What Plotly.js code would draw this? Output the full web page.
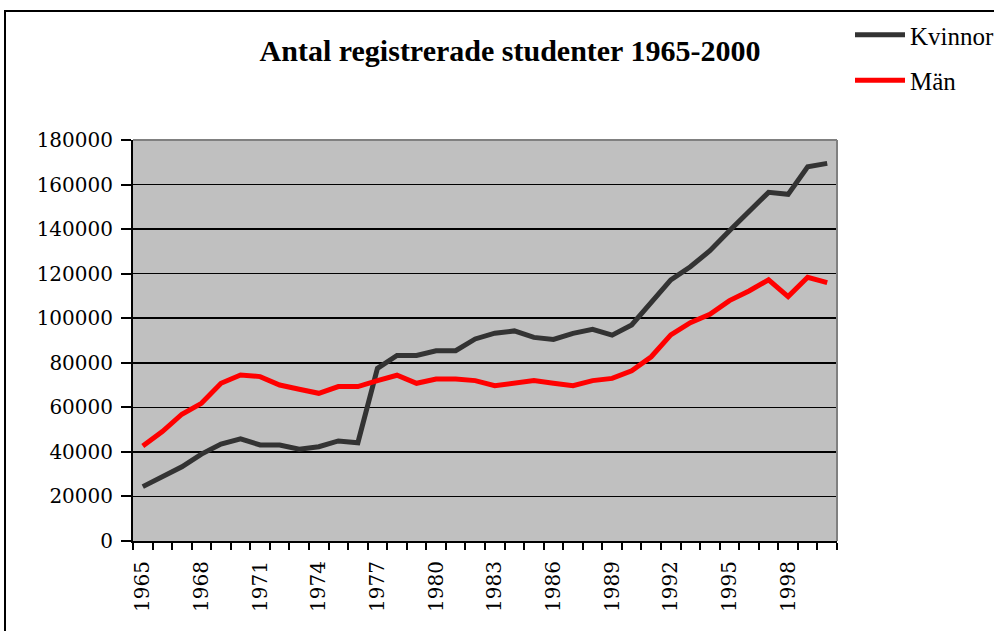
<!DOCTYPE html>
<html>
<head>
<meta charset="utf-8">
<script src="https://cdn.plot.ly/plotly-3.0.1.min.js"></script>
<style>
html,body{margin:0;padding:0;background:#fff;overflow:hidden;width:994px;height:631px;}
#chart{width:1100px;height:631px;}
</style>
</head>
<body>
<div id="chart"></div>
<script>
const years = [1965,1966,1967,1968,1969,1970,1971,1972,1973,1974,1975,1976,1977,1978,1979,1980,1981,1982,1983,1984,1985,1986,1987,1988,1989,1990,1991,1992,1993,1994,1995,1996,1997,1998,1999,2000];
const kvinnor = [24400,28900,33300,39000,43500,45900,43100,43100,41200,42300,44900,44100,77500,83300,83300,85400,85400,90700,93300,94300,91400,90500,93200,95000,92400,97000,107000,117200,123100,130300,139300,148300,156500,155600,168000,169500];
const man = [42600,49100,56900,61800,70800,74500,73800,70000,68100,66300,69300,69300,72000,74400,70800,72700,72700,72000,69700,70800,72000,70800,69700,72000,73000,76400,82700,92500,98000,101800,107900,112200,117200,109700,118400,116000];
const yTicks = [0,20000,40000,60000,80000,100000,120000,140000,160000,180000];
const xLabels = [1965,1968,1971,1974,1977,1980,1983,1986,1989,1992,1995,1998];

const L = 133, R = 837, T = 140, B = 541, W = 1100, H = 631;
const pw = R - L, ph = B - T;
const px = v => (v - L) / pw;
const py = v => (B - v) / ph;

const tickFont = {family: 'DejaVu Serif, Liberation Serif, serif', size: 20, color: '#000'};

const traces = [
  {x: years, y: kvinnor, name: 'Kvinnor', type: 'scatter', mode: 'lines',
   line: {color: '#333333', width: 5}, legendgroup: 'a'},
  {x: years, y: man, name: 'Män', type: 'scatter', mode: 'lines',
   line: {color: '#ff0000', width: 5}, legendgroup: 'b'}
];

const layout = {
  width: W, height: H,
  margin: {l: L, r: W - R, t: T, b: H - B, pad: 0},
  paper_bgcolor: '#ffffff',
  plot_bgcolor: '#c0c0c0',
  showlegend: true,
  title: {
    text: '<b>Antal registrerade studenter 1965-2000</b>',
    font: {family: 'Liberation Serif, serif', size: 30, color: '#000'},
    x: px(510), xanchor: 'center', xref: 'paper',
    y: 1 - 50 / H, yanchor: 'middle', yref: 'container'
  },
  xaxis: {
    type: 'linear',
    range: [1964.5, 2000.5],
    tickmode: 'array',
    tickvals: xLabels,
    ticktext: xLabels.map(String),
    ticks: '',
    tickangle: -90,
    tickfont: tickFont,
    showgrid: false,
    zeroline: false,
    showline: true, linecolor: '#000', linewidth: 2,
    minor: {tick0: 1964.5, dtick: 1, ticks: 'outside', ticklen: 7, tickwidth: 2, tickcolor: '#000', showgrid: false},
    ticklabelstandoff: 10,
    fixedrange: true
  },
  yaxis: {
    range: [0, 180000],
    tickmode: 'array',
    tickvals: yTicks,
    ticktext: yTicks.map(String),
    ticks: 'outside', ticklen: 10, tickwidth: 2, tickcolor: '#000',
    tickfont: tickFont,
    showgrid: true, gridcolor: '#000', gridwidth: 1.5,
    zeroline: false,
    showline: true, linecolor: '#000', linewidth: 2,
    ticklabelstandoff: 4,
    fixedrange: true
  },
  legend: {
    x: px(850), xanchor: 'left',
    y: py(12), yanchor: 'top',
    bgcolor: 'rgba(0,0,0,0)',
    font: {family: 'Liberation Serif, serif', size: 25, color: '#000'},
    tracegroupgap: 10,
    traceorder: 'grouped',
    itemwidth: 50
  },
  shapes: [
    {type: 'line', xref: 'paper', yref: 'paper', x0: 0, x1: 1, y0: 1, y1: 1,
     line: {color: '#808080', width: 2}},
    {type: 'line', xref: 'paper', yref: 'paper', x0: 1, x1: 1, y0: 0, y1: 1,
     line: {color: '#808080', width: 2}},
    {type: 'rect', xref: 'paper', yref: 'paper',
     x0: px(5), x1: px(1090), y0: py(11), y1: py(660),
     line: {color: '#000', width: 2}, fillcolor: 'rgba(0,0,0,0)'}
  ]
};

Plotly.newPlot('chart', traces, layout, {displayModeBar: false, staticPlot: true});
</script>
</body>
</html>
